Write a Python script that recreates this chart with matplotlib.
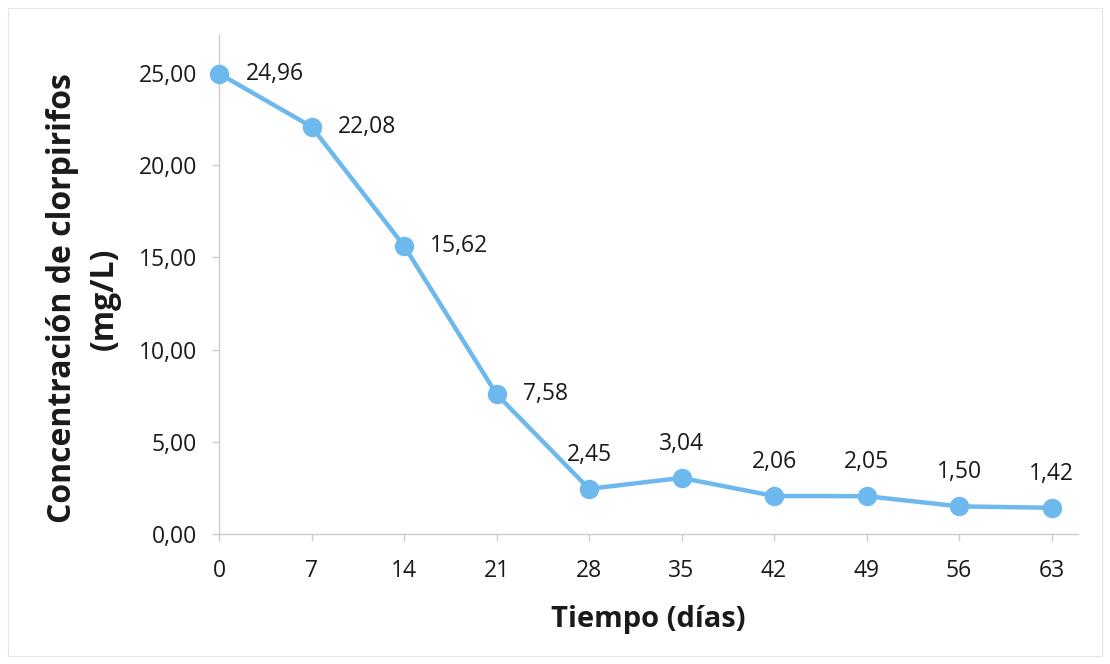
import matplotlib
matplotlib.use("Agg")
import matplotlib.pyplot as plt
from matplotlib.patches import Rectangle

plt.rcParams['font.family'] = ['Open Sans', 'DejaVu Sans']

dias = [0, 7, 14, 21, 28, 35, 42, 49, 56, 63]
concentracion = [24.96, 22.08, 15.62, 7.58, 2.45, 3.04, 2.06, 2.05, 1.50, 1.42]
yticks = [0, 5, 10, 15, 20, 25]

fig = plt.figure(figsize=(11.1, 6.64), dpi=100)
ax = fig.add_axes([219 / 1110, 1 - 534 / 664, (1078 - 219) / 1110, (534 - 35) / 664])

line_color = '#6DB9EE'
ax.plot(dias, concentracion, color=line_color, lw=3.2, marker='o', markersize=13,
        markerfacecolor=line_color, markeredgecolor=line_color, zorder=3, clip_on=False)

for i, (x, y) in enumerate(zip(dias, concentracion)):
    txt = f"{y:.2f}".replace('.', ',')
    if i < 4:
        ax.annotate(txt, (x, y), xytext=(19, 0), textcoords='offset points',
                    ha='left', va='center', fontsize=16.5, color='#1a1a1a')
    else:
        ax.annotate(txt, (x, y), xytext=(0, 16), textcoords='offset points',
                    ha='center', va='bottom', fontsize=16.5, color='#1a1a1a')

ax.set_xlim(0, 65)
ax.set_ylim(0, 27.05)
ax.set_xticks(dias)
ax.set_xticklabels([str(d) for d in dias])
ax.set_yticks(yticks)
ax.set_yticklabels([f"{v:.2f}".replace('.', ',') for v in yticks])

for s in ['top', 'right']:
    ax.spines[s].set_visible(False)
for s in ['left', 'bottom']:
    ax.spines[s].set_color('#cccccc')
    ax.spines[s].set_linewidth(1.0)

ax.tick_params(axis='both', colors='#cccccc', labelcolor='#1a1a1a', labelsize=16.5,
               length=5, width=1.0)
ax.tick_params(axis='y', pad=11)
ax.tick_params(axis='x', pad=13)

ax.set_xlabel('Tiempo (días)', fontsize=21, fontweight='bold', color='#1a1a1a', labelpad=16)
ax.set_ylabel('Concentración de clorpirifos\n(mg/L)', fontsize=23, fontweight='bold',
              color='#1a1a1a', linespacing=1.35)
ax.yaxis.set_label_coords(-0.114, 0.472)

# faint chart-area frame
fig.patches.append(Rectangle((8 / 1110, 1 - 656 / 664), 1 - 16 / 1110, 648 / 664,
                             transform=fig.transFigure, fill=False,
                             edgecolor='#e6e6e6', lw=0.8))

fig.savefig('out.png', dpi=100, facecolor='white')
